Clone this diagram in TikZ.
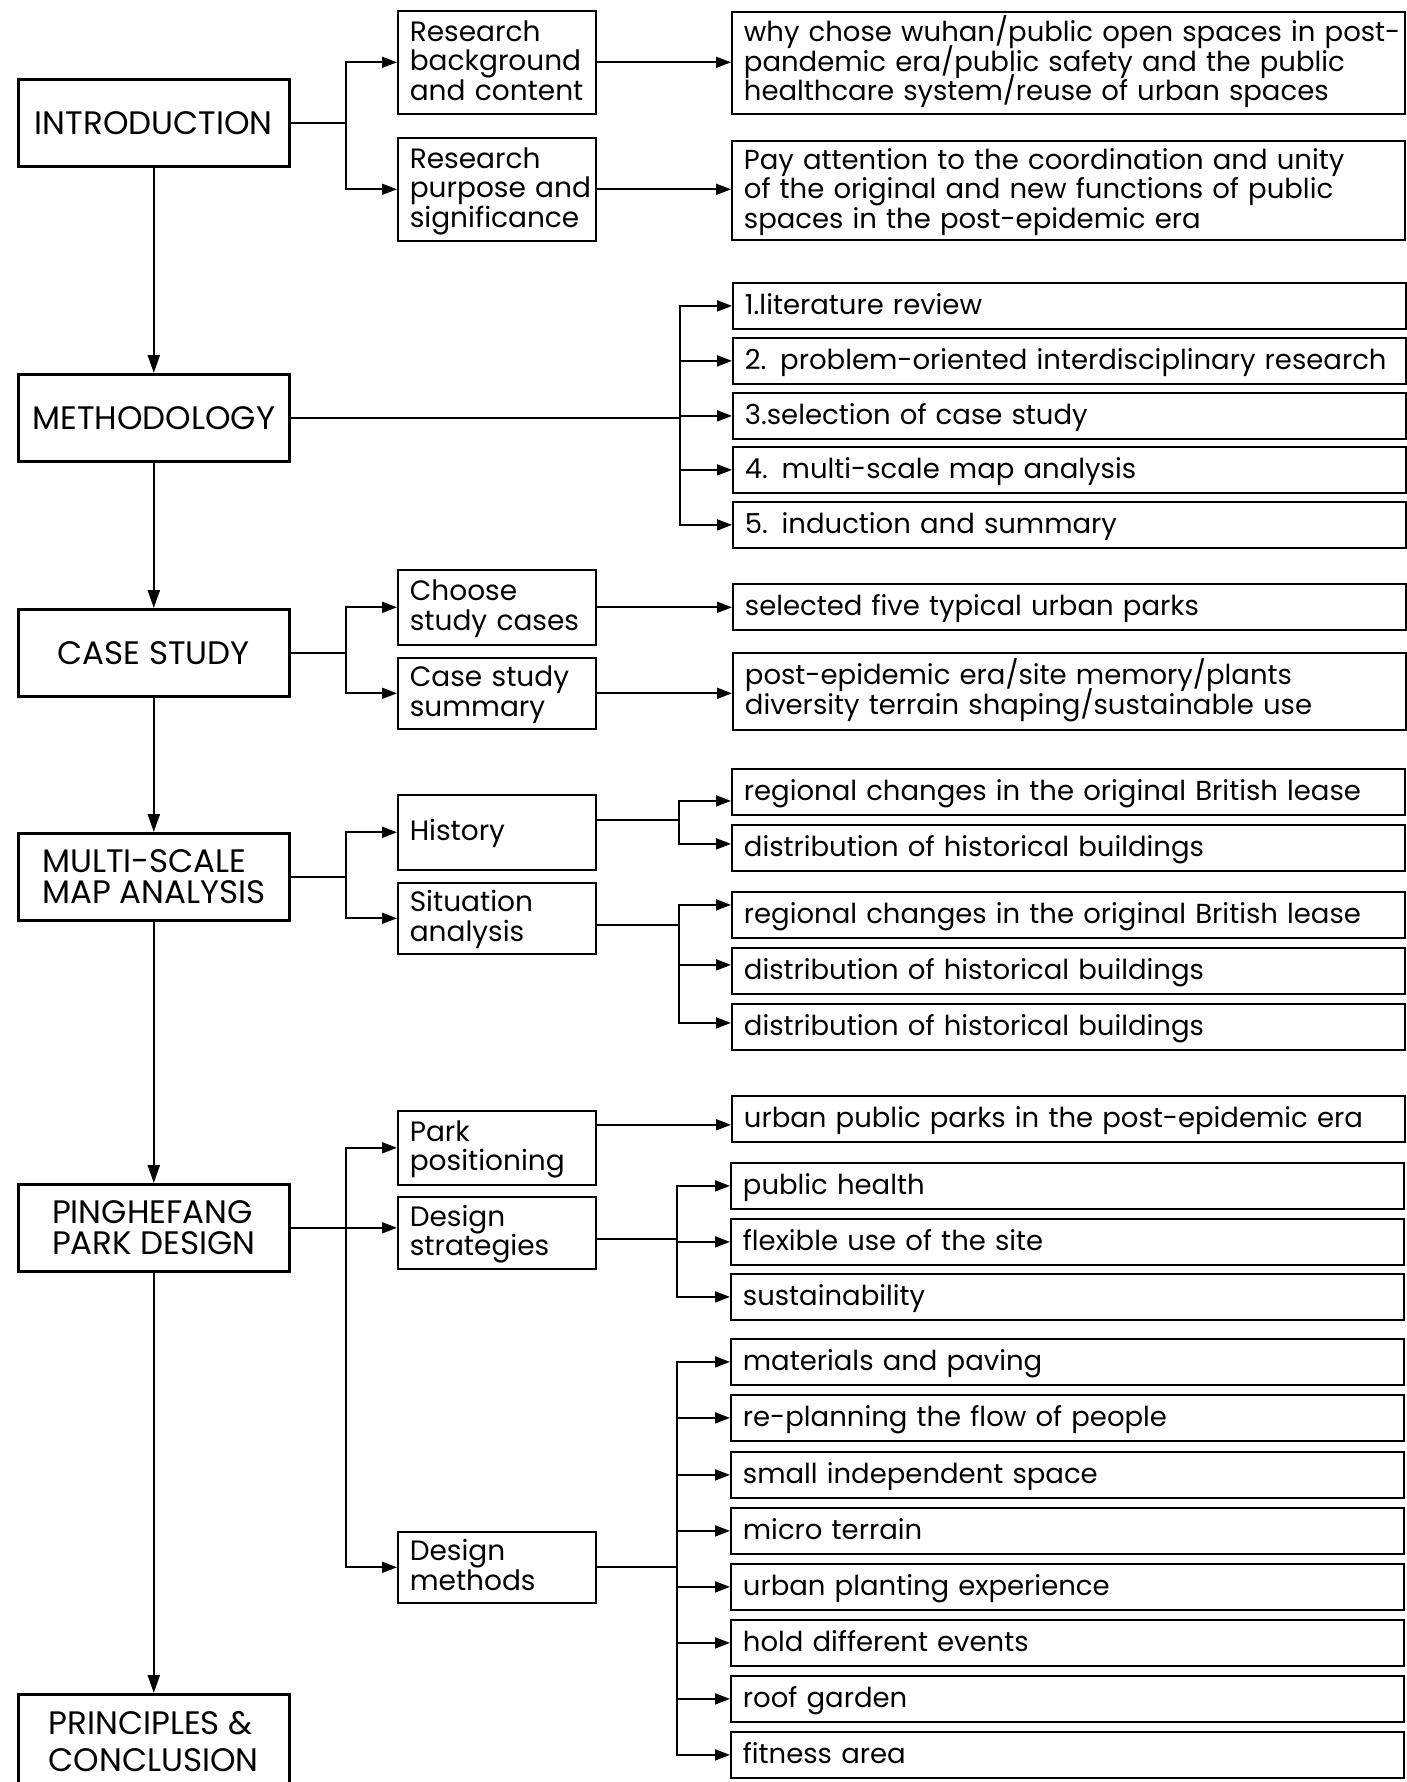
\documentclass[tikz,border=0pt]{standalone}
\usepackage{fontspec}
\setmainfont{Poppins}
\usetikzlibrary{arrows.meta}
% stack lines exactly one \baselineskip apart, left aligned
\newcommand\boxlines[1]{\vbox{\let\\\cr\halign{\setbox0=\hbox\bgroup##\egroup\ht0=0pt\dp0=0pt\box0\vrule height.78\baselineskip depth.22\baselineskip width0pt\hfil\cr#1\crcr}}}
\begin{document}
\begin{tikzpicture}[x=1pt,y=-1pt,
  mainbox/.style={draw, line width=2.6pt, anchor=north west, minimum width=271pt, minimum height=87pt, inner sep=0pt, font=\fontsize{32.5}{31}\selectfont, align=left},
  midbox/.style={draw, line width=1.6pt, anchor=north west, inner xsep=12pt, inner ysep=0pt, text width=174pt, align=left, font=\fontsize{28}{29.5}\selectfont},
  rbox/.style={draw, line width=1.8pt, anchor=north west, inner xsep=12pt, inner ysep=0pt, text width=649pt, minimum height=46pt, align=left, font=\fontsize{27.5}{29.5}\selectfont},
  bigarr/.style={line width=2.2pt, -{Triangle[length=18pt,width=12pt]}},
  arr/.style={line width=1.8pt, -{Triangle[length=15pt,width=11pt]}},
  link/.style={line width=1.8pt}
]
\useasboundingbox (0,0) rectangle (1406,1782);

% main column
\node[mainbox] (intro) at (17,78) {INTRODUCTION};
\node[mainbox] (meth) at (17,373) {METHODOLOGY};
\node[mainbox] (cs) at (17,608) {CASE STUDY};
\node[mainbox] (msa) at (17,832) {MULTI-SCALE\\MAP ANALYSIS};
\node[mainbox] (pd) at (17,1183) {PINGHEFANG\\PARK DESIGN};
\node[mainbox, minimum height=94pt, font=\fontsize{32.5}{37}\selectfont] (pc) at (17,1693) {PRINCIPLES \&\\CONCLUSION};

% middle column
\node[midbox, minimum height=103pt] (rbc) at (397,10) {\boxlines{Research\\background\\and content}};
\node[midbox, minimum height=103pt] (rps) at (397,137) {\boxlines{Research\\purpose and\\significance}};
\node[midbox, minimum height=75pt] (choose) at (397,569) {\boxlines{Choose\\study cases}};
\node[midbox, minimum height=71pt] (summary) at (397,657) {\boxlines{Case study\\summary}};
\node[midbox, minimum height=75pt] (history) at (397,794) {\boxlines{History}};
\node[midbox, minimum height=71pt] (situation) at (397,882) {\boxlines{Situation\\analysis}};
\node[midbox, minimum height=74pt] (park) at (397,1110) {\boxlines{Park\\positioning}};
\node[midbox, minimum height=72pt] (strat) at (397,1196) {\boxlines{Design\\strategies}};
\node[midbox, minimum height=71pt] (methods) at (397,1531) {\boxlines{Design\\methods}};

% right column
\node[rbox, minimum height=102pt] (why) at (731,11) {\boxlines{why chose wuhan/public open spaces in post-\\pandemic era/public safety and the public\\healthcare system/reuse of urban spaces}};
\node[rbox, minimum height=99pt] (pay) at (731,140) {\boxlines{Pay attention to the coordination and unity\\of the original and new functions of public\\spaces in the post-epidemic era}};
\node[rbox] (m1) at (732,282) {\boxlines{1.literature review}};
\node[rbox] (m2) at (732,337) {\boxlines{2. problem-oriented interdisciplinary research}};
\node[rbox] (m3) at (732,392) {\boxlines{3.selection of case study}};
\node[rbox] (m4) at (732,446) {\boxlines{4. multi-scale map analysis}};
\node[rbox] (m5) at (732,501) {\boxlines{5. induction and summary}};
\node[rbox] (sel) at (732,583) {\boxlines{selected five typical urban parks}};
\node[rbox, minimum height=77pt] (post) at (732,652) {\boxlines{post-epidemic era/site memory/plants\\diversity terrain shaping/sustainable use}};
\node[rbox] (reg1) at (731,768) {\boxlines{regional changes in the original British lease}};
\node[rbox] (dist1) at (731,824) {\boxlines{distribution of historical buildings}};
\node[rbox] (reg2) at (731,891) {\boxlines{regional changes in the original British lease}};
\node[rbox] (dist2) at (731,947) {\boxlines{distribution of historical buildings}};
\node[rbox] (dist3) at (731,1003) {\boxlines{distribution of historical buildings}};
\node[rbox] (urban) at (731,1095) {\boxlines{urban public parks in the post-epidemic era}};
\node[rbox] (ph) at (730,1162) {\boxlines{public health}};
\node[rbox] (flex) at (730,1218) {\boxlines{flexible use of the site}};
\node[rbox] (sus) at (730,1273) {\boxlines{sustainability}};
\node[rbox] (mat) at (730,1338) {\boxlines{materials and paving}};
\node[rbox] (replan) at (730,1394) {\boxlines{re-planning the flow of people}};
\node[rbox] (small) at (730,1451) {\boxlines{small independent space}};
\node[rbox] (micro) at (730,1507) {\boxlines{micro terrain}};
\node[rbox] (plant) at (730,1563) {\boxlines{urban planting experience}};
\node[rbox] (events) at (730,1619) {\boxlines{hold different events}};
\node[rbox] (roof) at (730,1675) {\boxlines{roof garden}};
\node[rbox] (fit) at (730,1731) {\boxlines{fitness area}};

% main chain
\draw[bigarr] (intro.south) -- (meth.north);
\draw[bigarr] (meth.south) -- (cs.north);
\draw[bigarr] (cs.south) -- (msa.north);
\draw[bigarr] (msa.south) -- (pd.north);
\draw[bigarr] (pd.south) -- (pc.north);

% introduction
\draw[link] (intro.east) -- ++(55,0) coordinate (ji);
\draw[arr] (ji) |- (rbc.west);
\draw[arr] (ji) |- (rps.west);
\draw[arr] (rbc.east) -- (rbc.east -| why.west);
\draw[arr] (rps.east) -- (rps.east -| pay.west);

% methodology
\draw[link] (meth.east) -- ++(389,0) coordinate (jm);
\foreach \t in {m1,m2,m3,m4,m5} \draw[arr] (jm) |- (\t.west);

% case study
\draw[link] (cs.east) -- ++(55,0) coordinate (jc);
\draw[arr] (jc) |- (choose.west);
\draw[arr] (jc) |- (summary.west);
\draw[arr] (choose.east) -- (choose.east -| sel.west);
\draw[arr] (summary.east) -- (summary.east -| post.west);

% multi-scale
\draw[link] (msa.east) -- ++(55,0) coordinate (jmsa);
\draw[arr] (jmsa) |- (history.west);
\draw[arr] (jmsa) |- (situation.west);
\draw[link] ([yshift=12pt]history.east) -- ++(82,0) coordinate (jh);
\draw[arr] (jh) |- ([yshift=-9pt]reg1.west);
\draw[arr] (jh) |- ([yshift=4pt]dist1.west);
\draw[link] ([yshift=-7pt]situation.east) -- ++(82,0) coordinate (js);
\draw[arr] (js) |- ([yshift=10pt]reg2.west);
\draw[arr] (js) |- ([yshift=6pt]dist2.west);
\draw[arr] (js) |- ([yshift=4pt]dist3.west);

% park design
\draw[arr] (pd.east) -- (pd.east -| strat.west);
\path (pd.east) -- ++(55,0) coordinate (jp);
\draw[arr] (jp) |- (park.west);
\draw[arr] (jp) |- (methods.west);
\draw[arr] ([yshift=23pt]park.east) -- ([yshift=23pt]park.east -| urban.west);
\draw[link] ([yshift=-6pt]strat.east) -- ++(80,0) coordinate (jst);
\foreach \t in {ph,flex,sus} \draw[arr] (jst) |- (\t.west);
\draw[link] (methods.east) -- ++(80,0) coordinate (jme);
\foreach \t in {mat,replan,small,micro,plant,events,roof,fit} \draw[arr] (jme) |- (\t.west);
\end{tikzpicture}
\end{document}
